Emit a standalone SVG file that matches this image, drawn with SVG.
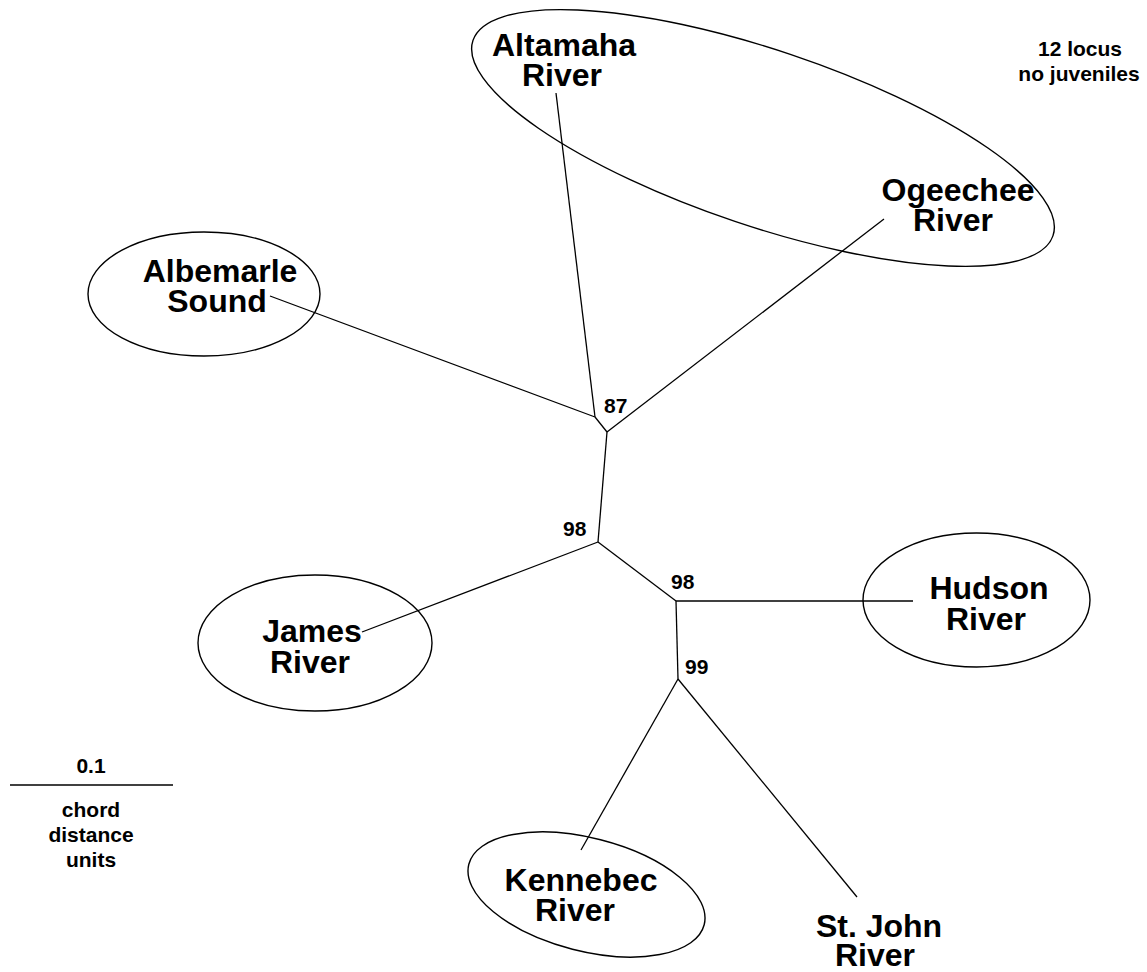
<svg xmlns="http://www.w3.org/2000/svg" width="1147" height="972" viewBox="0 0 1147 972">
<style>
.bg{fill:#fff}
.ell{fill:none;stroke:#000;stroke-width:1.4}
.lbl{font-family:"Liberation Sans",Arial,sans-serif;font-weight:bold;font-size:32px;fill:#000;text-anchor:middle}
.sm{font-family:"Liberation Sans",Arial,sans-serif;font-weight:bold;font-size:21px;fill:#000}
.mid{text-anchor:middle}
.edge{stroke:#000;stroke-width:1.3;fill:none}
</style>
<rect class="bg" x="0" y="0" width="1147" height="972"/>
<g id="connectors">
<line class="edge" x1="556" y1="93" x2="595" y2="417"/>
<line class="edge" x1="270" y1="296" x2="595" y2="417"/>
<line class="edge" x1="595" y1="417" x2="607" y2="432"/>
<line class="edge" x1="884" y1="219" x2="607" y2="432"/>
<line class="edge" x1="607" y1="432" x2="598" y2="542"/>
<line class="edge" x1="598" y1="542" x2="362" y2="632"/>
<line class="edge" x1="598" y1="542" x2="676" y2="601"/>
<line class="edge" x1="676" y1="601" x2="913" y2="601"/>
<line class="edge" x1="676" y1="601" x2="678" y2="679"/>
<line class="edge" x1="678" y1="679" x2="581" y2="850"/>
<line class="edge" x1="678" y1="679" x2="857" y2="897"/>
<line class="edge" x1="10" y1="785" x2="173" y2="785"/>
</g>
<g id="group-altamaha-ogeechee">
<ellipse class="ell" cx="763" cy="138" rx="306" ry="88" transform="rotate(18.6 763 138)"/>
</g>
<g id="altamaha">
<text class="lbl" x="564" y="56">Altamaha</text>
<text class="lbl" x="562" y="86">River</text>
</g>
<g id="ogeechee">
<text class="lbl" x="958" y="201">Ogeechee</text>
<text class="lbl" x="953" y="231">River</text>
</g>
<g id="albemarle">
<ellipse class="ell" cx="204" cy="294" rx="116" ry="62"/>
<text class="lbl" x="220" y="282">Albemarle</text>
<text class="lbl" x="217" y="312">Sound</text>
</g>
<g id="james">
<ellipse class="ell" cx="315" cy="643" rx="117" ry="68"/>
<text class="lbl" x="312" y="642">James</text>
<text class="lbl" x="310" y="673">River</text>
</g>
<g id="hudson">
<ellipse class="ell" cx="976.5" cy="600" rx="113.5" ry="67"/>
<text class="lbl" x="989" y="599">Hudson</text>
<text class="lbl" x="986" y="630">River</text>
</g>
<g id="kennebec">
<ellipse class="ell" cx="586.5" cy="894.5" rx="121.5" ry="56.5" transform="rotate(14.4 586.5 894.5)"/>
<text class="lbl" x="581" y="891">Kennebec</text>
<text class="lbl" x="575" y="921">River</text>
</g>
<g id="stjohn">
<text class="lbl" x="879" y="937">St. John</text>
<text class="lbl" x="875" y="966">River</text>
</g>
<g id="bootstrap">
<text class="sm" x="604" y="413">87</text>
<text class="sm" x="563" y="536">98</text>
<text class="sm" x="671" y="589">98</text>
<text class="sm" x="685" y="674">99</text>
</g>
<g id="note">
<text class="sm mid" x="1080" y="56">12 locus</text>
<text class="sm mid" x="1079" y="81">no juveniles</text>
</g>
<g id="scale">
<text class="sm mid" x="91" y="773">0.1</text>
<text class="sm mid" x="91" y="817">chord</text>
<text class="sm mid" x="91" y="842">distance</text>
<text class="sm mid" x="91" y="867">units</text>
</g>
</svg>
